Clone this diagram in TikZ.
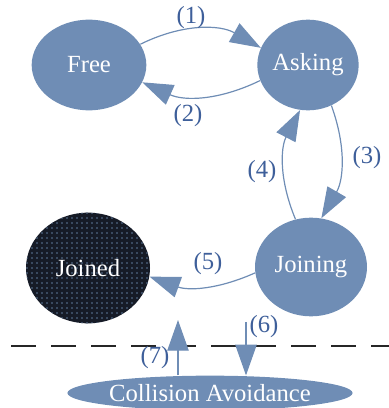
\documentclass[tikz,border=0pt]{standalone}
\usepackage{fontspec}
\setmainfont{Liberation Serif}
\usetikzlibrary{shapes.geometric,arrows.meta}
\definecolor{stateblue}{HTML}{6F8DB5}
\definecolor{labelblue}{HTML}{3E5F9A}
\definecolor{fabric}{HTML}{161B26}
\tikzset{>={Triangle[length=23pt,width=16pt]}}
\tikzset{state/.style={ellipse, fill=stateblue, text=white, inner sep=0pt},
         trans/.style={->, stateblue, line width=0.9pt},
         lbl/.style={text=labelblue}}

\begin{document}
\begin{tikzpicture}[x=0.75pt, y=0.75pt, font=\fontsize{18.5}{22}\selectfont]
    \useasboundingbox (0,0) rectangle (389,408);

    \node[state, minimum width=86pt, minimum height=68pt] at (89,343) (free) {Free};
    \node[state, minimum width=76pt, minimum height=68pt] at (308,343) (asking) {Asking};
    \node[state, minimum width=84pt, minimum height=74pt] at (311,141) (joining) {Joining};
    \node[state, fill=fabric, minimum width=93pt, minimum height=83pt] at (88,140) (joined) {};
    % woven texture of the joined state
    \begin{scope}
        \clip (88,140) ellipse [x radius=62, y radius=55.3];
        \foreach \i in {0,...,25} {
            \foreach \j in {0,...,22} {
                \fill[stateblue!55!fabric] (27+5*\i,85+5*\j) circle [radius=1.1];
            }
        }
    \end{scope}
    \node[text=white] at (joined) {Joined};
    \node[state, minimum width=213pt, minimum height=26pt] at (210,15) (ca) {Collision Avoidance};

    \draw[gray!30!black, line width=1.4pt, dash pattern=on 19pt off 11pt] (11,62) -- (389,62);

    \draw[trans] (free.22) to[bend left=28] (asking.160);
    \draw[trans] (asking.198) to[bend left=25] (free.-18);
    \draw[trans] (asking.-60) to[bend left=25] (joining.78);
    \draw[trans] (joining.108) to[bend left=25] (asking.-100);
    \draw[trans] (joining.186) to[bend left=22] (joined.-8);

    \coordinate (six) at (246,86);
    \coordinate (seven) at (178,88);
    \draw[trans] (six) -- (six |- ca.north);
    \draw[trans] (seven |- ca.north) -- (seven);

    \node[lbl] at (191,390) (l1) {(1)};
    \node[lbl] at (188,292) (l2) {(2)};
    \node[lbl] at (367,250) (l3) {(3)};
    \node[lbl] at (262,236) (l4) {(4)};
    \node[lbl] at (208,144) (l5) {(5)};
    \node[lbl] at (264,81) (l6) {(6)};
    \node[lbl] at (155,50) (l7) {(7)};

\end{tikzpicture}
\end{document}
